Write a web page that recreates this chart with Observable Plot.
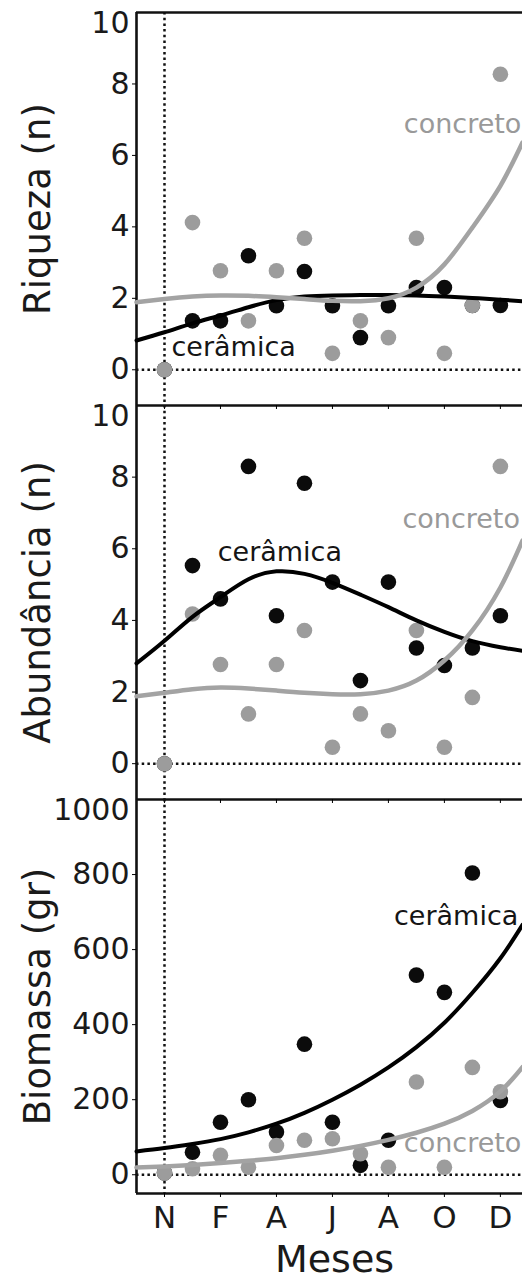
<!DOCTYPE html>
<html>
<head>
<meta charset="utf-8">
<script src="https://cdn.jsdelivr.net/npm/d3@7"></script>
<script src="https://cdn.jsdelivr.net/npm/@observablehq/plot@0.6"></script>
<style>
  html, body { margin: 0; padding: 0; background: #fff; }
  #chart { width: 522px; }
  #chart svg { display: block; }
</style>
</head>
<body>
<div id="chart"></div>
<script>
// Sampling months (13 collections); labels on every second one
const sampleIndex = [0, 1, 2, 3, 4, 5, 6, 7, 8, 9, 10, 11, 12];
const monthTicks = [0, 2, 4, 6, 8, 10, 12];
const monthLabels = ["N", "F", "A", "J", "A", "O", "D"];

// Riqueza (n)
const riquezaCeramica = [0, 1.37, 1.37, 3.19, 1.79, 2.75, 1.79, 0.9, 1.79, 2.3, 2.3, 1.8, 1.8];
const riquezaConcreto = [0, 4.12, 2.77, 1.37, 2.77, 3.68, 0.46, 1.37, 0.9, 3.68, 0.46, 1.8, 8.27];

// Abundância (n)
const abundanciaCeramica = [0, 5.53, 4.6, 8.3, 4.13, 7.83, 5.07, 2.32, 5.07, 3.23, 2.74, 3.23, 4.13];
const abundanciaConcreto = [0, 4.18, 2.77, 1.39, 2.77, 3.72, 0.46, 1.39, 0.92, 3.72, 0.46, 1.85, 8.3];

// Biomassa (gr)
const biomassaCeramica = [5, 60, 140, 200, 114, 348, 140, 25, 92, 532, 486, 804, 198];
const biomassaConcreto = [5, 16, 52, 20, 78, 92, 96, 56, 20, 247, 20, 286, 221];

// Fitted trend curves, sampled along the month axis
const fitX = [-1, 0, 1, 2, 3, 4, 5, 6, 7, 8, 9, 10, 11, 12, 12.79];
const riquezaFitCeramica = [0.82, 1.05, 1.3, 1.52, 1.75, 1.95, 2.05, 2.08, 2.09, 2.09, 2.08, 2.05, 2.01, 1.96, 1.92];
const riquezaFitConcreto = [1.89, 1.98, 2.05, 2.08, 2.07, 2.03, 1.98, 1.93, 1.92, 2.0, 2.3, 2.95, 3.98, 5.15, 6.36];
const abundanciaFitCeramica = [2.8, 3.43, 4.1, 4.65, 5.15, 5.37, 5.3, 5.05, 4.72, 4.37, 4.0, 3.68, 3.42, 3.25, 3.15];
const abundanciaFitConcreto = [1.88, 1.98, 2.08, 2.13, 2.1, 2.04, 1.98, 1.94, 1.94, 2.04, 2.32, 2.88, 3.72, 4.92, 6.23];
const biomassaFitCeramica = [62, 71, 82, 95, 113, 136, 165, 200, 240, 286, 340, 405, 485, 577, 666];
const biomassaFitConcreto = [19, 22, 26, 31, 37, 44, 53, 64, 77, 93, 112, 136, 170, 222, 287];

const xDomain = [-1, 12.79];
const font = "DejaVu Sans";
const black = "#0b0b0b";
const grey = "#9c9c9c";
const ink = "#1a1a1a";

function points(values) {
  return sampleIndex.map((i) => ({x: i, y: values[i]}));
}
function fit(values) {
  return fitX.map((x, i) => ({x, y: values[i]}));
}

function panel(opts) {
  const {
    yLabel, yDomain, yTicks, yTop, cer, con, cerFit, conFit,
    cerLabel, conLabel, height, marginTop, marginBottom, showMonths, topFrame
  } = opts;
  const [y0, y1] = yDomain;
  const dotted = {stroke: "#111", strokeWidth: 2.5, strokeDasharray: "2.5,3.2"};
  const frame = {stroke: "#111", strokeWidth: 2.6};
  return Plot.plot({
    width: 522,
    height,
    marginLeft: 136,
    marginRight: 0,
    marginTop,
    marginBottom,
    style: {fontFamily: font, background: "none", overflow: "visible"},
    x: {domain: xDomain},
    y: {domain: yDomain},
    marks: [
      // dotted reference lines: zero level and first collection
      Plot.ruleY([0], dotted),
      Plot.ruleX([0], dotted),
      // frame
      Plot.ruleX([xDomain[0]], frame),
      Plot.ruleY([y0], frame),
      topFrame ? Plot.ruleY([y1], frame) : null,
      // y axis
      Plot.axisY({ticks: yTicks, tickFormat: (d) => String(d), tickSize: 4, tickPadding: 3, fontSize: 30, fill: ink, label: null}),
      Plot.axisY({ticks: [yTop], tickFormat: (d) => String(d), tickSize: 0, tickPadding: 7, dy: 11, fontSize: 30, fill: ink, label: null}),
      Plot.text([yLabel], {frameAnchor: "left", dx: -98, rotate: -90, textAnchor: "middle", lineAnchor: "middle", fontSize: 37, fill: ink}),
      // x axis
      showMonths
        ? Plot.axisX({ticks: monthTicks, tickFormat: (d) => monthLabels[monthTicks.indexOf(d)], tickSize: 4, tickPadding: 8, fontSize: 31, fill: ink, label: null})
        : Plot.axisX({ticks: monthTicks, tickFormat: () => "", tickSize: 4, label: null}),
      showMonths
        ? Plot.text(["Meses"], {frameAnchor: "bottom", dx: 5, dy: 66, lineAnchor: "middle", textAnchor: "middle", fontSize: 38, fill: ink})
        : null,
      // observations
      Plot.dot(points(cer), {x: "x", y: "y", r: 7.8, fill: black}),
      Plot.dot(points(con), {x: "x", y: "y", r: 7.8, fill: grey}),
      // trend curves
      Plot.line(fit(cerFit), {x: "x", y: "y", stroke: "#000", strokeWidth: 4, curve: "natural"}),
      Plot.line(fit(conFit), {x: "x", y: "y", stroke: "#a3a3a3", strokeWidth: 4.5, curve: "natural"}),
      // series labels
      Plot.text([cerLabel], {x: "x", y: "y", text: () => "cerâmica", textAnchor: "start", fontSize: 27, fill: "#151515"}),
      Plot.text([conLabel], {x: "x", y: "y", text: () => "concreto", textAnchor: "start", fontSize: 27, fill: "#999"})
    ]
  });
}

const chart = document.getElementById("chart");

chart.append(panel({
  yLabel: "Riqueza (n)", yDomain: [-1, 10], yTicks: [0, 2, 4, 6, 8], yTop: 10,
  cer: riquezaCeramica, con: riquezaConcreto,
  cerFit: riquezaFitCeramica, conFit: riquezaFitConcreto,
  cerLabel: {x: 0.25, y: 0.62}, conLabel: {x: 8.55, y: 6.88},
  height: 405, marginTop: 12, marginBottom: 0, showMonths: false, topFrame: true
}));

chart.append(panel({
  yLabel: "Abundância (n)", yDomain: [-1, 10], yTicks: [0, 2, 4, 6, 8], yTop: 10,
  cer: abundanciaCeramica, con: abundanciaConcreto,
  cerFit: abundanciaFitCeramica, conFit: abundanciaFitConcreto,
  cerLabel: {x: 1.9, y: 5.89}, conLabel: {x: 8.5, y: 6.82},
  height: 394, marginTop: 0, marginBottom: 0, showMonths: false, topFrame: false
}));

chart.append(panel({
  yLabel: "Biomassa (gr)", yDomain: [-50, 1000], yTicks: [0, 200, 400, 600, 800], yTop: 1000,
  cer: biomassaCeramica, con: biomassaConcreto,
  cerFit: biomassaFitCeramica, conFit: biomassaFitConcreto,
  cerLabel: {x: 8.2, y: 689}, conLabel: {x: 8.55, y: 84},
  height: 483, marginTop: 0, marginBottom: 89, showMonths: true, topFrame: false
}));
</script>
</body>
</html>
